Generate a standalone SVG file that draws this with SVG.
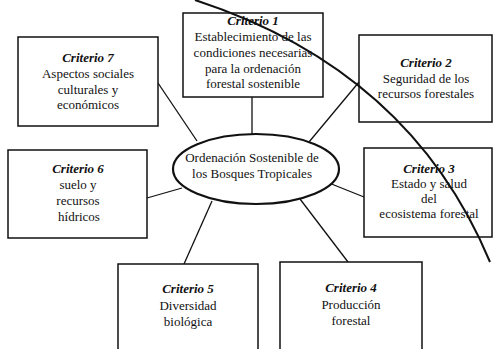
<svg xmlns="http://www.w3.org/2000/svg" width="495" height="349" viewBox="0 0 495 349">
<style>
.box{fill:#fff;stroke:#111;stroke-width:1.5}
.ell{fill:#fff;stroke:#111;stroke-width:2.2}
.con{stroke:#111;stroke-width:1.3;fill:none}
.t{font-family:'Liberation Serif','Times New Roman','DejaVu Serif',serif;font-size:13px;fill:#111;text-anchor:middle}
.h{font-weight:bold;font-style:italic}
.mark{stroke:#111;stroke-width:2;fill:none}
</style>
<rect width="495" height="349" fill="#fff"/>
<g id="connectors">
<line class="con" x1="158" y1="83" x2="197" y2="141"/>
<line class="con" x1="252" y1="97" x2="252" y2="134"/>
<line class="con" x1="359" y1="82" x2="309" y2="142"/>
<line class="con" x1="329" y1="183" x2="364" y2="197"/>
<line class="con" x1="147" y1="198" x2="182" y2="188"/>
<line class="con" x1="212" y1="201" x2="184" y2="264"/>
<line class="con" x1="300" y1="199" x2="348" y2="262"/>
</g>
<g id="center" class="t" font-family="Liberation Serif, serif">
<ellipse class="ell" cx="256" cy="169" rx="83" ry="35"/>
<text x="252" y="162">Ordenación Sostenible de</text>
<text x="252" y="178">los Bosques Tropicales</text>
</g>
<g id="c1" class="t" font-family="Liberation Serif, serif">
<rect class="box" x="183" y="13" width="140" height="84"/>
<text class="h" x="253" y="25">Criterio 1</text>
<text x="253" y="41">Establecimiento de las</text>
<text x="253" y="57">condiciones necesarias</text>
<text x="253" y="73">para la ordenación</text>
<text x="253" y="88">forestal sostenible</text>
</g>
<g id="c2" class="t" font-family="Liberation Serif, serif">
<rect class="box" x="359" y="35" width="133" height="87"/>
<text class="h" x="426" y="67">Criterio 2</text>
<text x="426" y="83">Seguridad de los</text>
<text x="426" y="98">recursos forestales</text>
</g>
<g id="c3" class="t" font-family="Liberation Serif, serif">
<rect class="box" x="364" y="148" width="128" height="89"/>
<text class="h" x="429" y="173">Criterio 3</text>
<text x="429" y="188">Estado y salud</text>
<text x="429" y="203">del</text>
<text x="429" y="218">ecosistema forestal</text>
</g>
<g id="c4" class="t" font-family="Liberation Serif, serif">
<rect class="box" x="280" y="262" width="142" height="100"/>
<text class="h" x="351" y="292">Criterio 4</text>
<text x="351" y="309">Producción</text>
<text x="351" y="325">forestal</text>
</g>
<g id="c5" class="t" font-family="Liberation Serif, serif">
<rect class="box" x="118" y="264" width="140" height="100"/>
<text class="h" x="188" y="293">Criterio 5</text>
<text x="188" y="310">Diversidad</text>
<text x="188" y="326">biológica</text>
</g>
<g id="c6" class="t" font-family="Liberation Serif, serif">
<rect class="box" x="8" y="150" width="139" height="88"/>
<text class="h" x="78" y="173">Criterio 6</text>
<text x="78" y="189">suelo y</text>
<text x="78" y="205">recursos</text>
<text x="79" y="221">hídricos</text>
</g>
<g id="c7" class="t" font-family="Liberation Serif, serif">
<rect class="box" x="18" y="37" width="140" height="89"/>
<text class="h" x="88" y="62">Criterio 7</text>
<text x="88" y="78">Aspectos sociales</text>
<text x="88" y="94">culturales y</text>
<text x="88" y="109">económicos</text>
</g>
<path class="mark" d="M195,0 Q410,70 490,262"/>
</svg>
